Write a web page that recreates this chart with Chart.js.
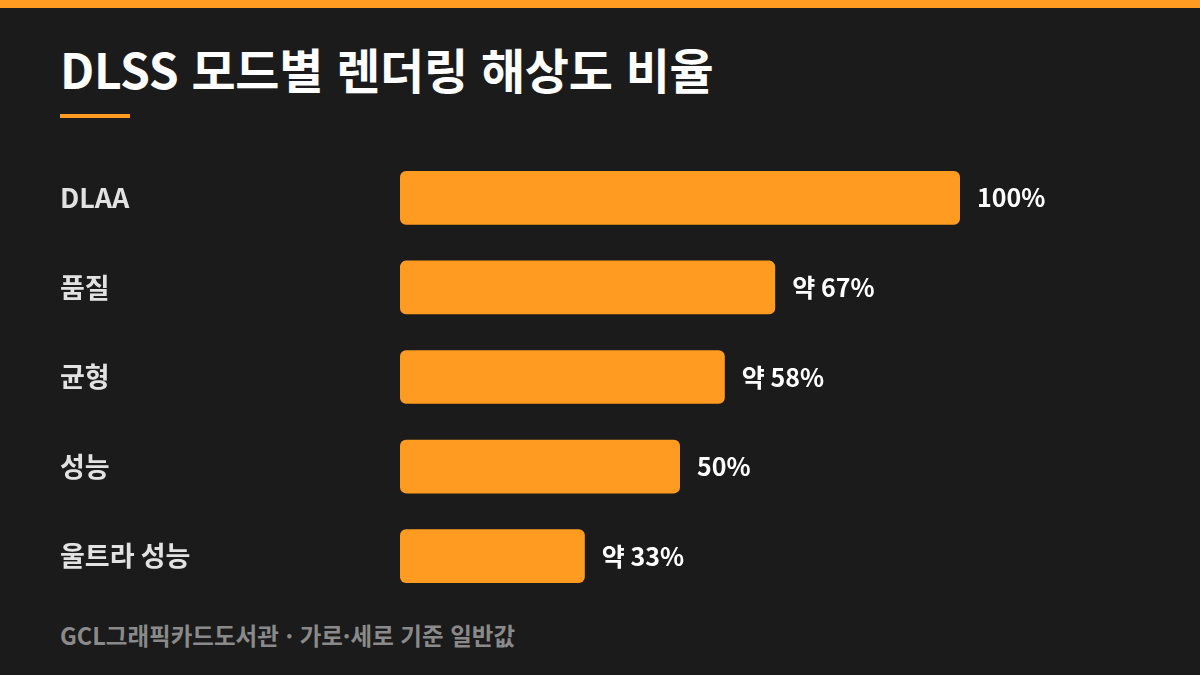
<!DOCTYPE html>
<html lang="ko">
<head>
<meta charset="utf-8">
<script src="https://cdn.jsdelivr.net/npm/chart.js@4"></script>
<style>
  html, body { margin: 0; padding: 0; }
  body {
    width: 1200px; height: 675px; background: #1b1b1b; position: relative; overflow: hidden;
    font-family: "Noto Sans CJK KR", "Noto Sans", sans-serif;
  }
  .topbar { position: absolute; left: 0; top: 0; width: 1200px; height: 8px; background: #ff9b21; }
  h1 {
    position: absolute; left: 60px; top: 36px; margin: 0;
    font-size: 48px; font-weight: 700; color: #ffffff; line-height: 64px; letter-spacing: -0.3px;
  }
  .rule { position: absolute; left: 60px; top: 114px; width: 70px; height: 4px; background: #ff9b21; }
  .chart-box { position: absolute; left: 60px; top: 137px; width: 1080px; height: 480px; }
  .footer {
    position: absolute; left: 60px; top: 619px; margin: 0;
    font-size: 23.5px; font-weight: 700; color: #8a8a8a; line-height: 32px;
  }
</style>
</head>
<body>
<div class="topbar"></div>
<h1>DLSS 모드별 렌더링 해상도 비율</h1>
<div class="rule"></div>
<div class="chart-box"><canvas id="dlssChart"></canvas></div>
<p class="footer">GCL그래픽카드도서관 · 가로·세로 기준 일반값</p>

<script>
// 모드 이름, 렌더링 비율(%), 막대 옆에 붙는 라벨
const modes = ['DLAA', '품질', '균형', '성능', '울트라 성능'];
const ratios = [100, 67, 58, 50, 33];
const ratioLabels = ['100%', '약 67%', '약 58%', '50%', '약 33%'];

const FONT = '"Noto Sans CJK KR", "Noto Sans", sans-serif';

// 막대 끝에 값 라벨 그리기
const valueLabelPlugin = {
    id: 'valueLabels',
    afterDatasetsDraw(chart) {
        const ctx = chart.ctx;
        const meta = chart.getDatasetMeta(0);
        ctx.save();
        ctx.font = 'bold 25px ' + FONT;
        ctx.fillStyle = '#ffffff';
        ctx.textAlign = 'left';
        ctx.textBaseline = 'middle';
        meta.data.forEach((bar, i) => {
            ctx.fillText(ratioLabels[i], bar.x + 17, bar.y);
        });
        ctx.restore();
    }
};

new Chart(document.getElementById('dlssChart'), {
    type: 'bar',
    data: {
        labels: modes,
        datasets: [{
            data: ratios,
            backgroundColor: '#ff9b21',
            borderRadius: 6,
            borderSkipped: false,
            barPercentage: 0.6,
            categoryPercentage: 1
        }]
    },
    options: {
        indexAxis: 'y',
        responsive: true,
        maintainAspectRatio: false,
        animation: false,
        layout: { padding: { left: 0, right: 180, top: 0, bottom: 0 } },
        plugins: {
            legend: { display: false },
            tooltip: { enabled: false }
        },
        scales: {
            x: {
                display: false,
                min: 0,
                max: 100
            },
            y: {
                grid: { display: false, drawTicks: false },
                border: { display: false },
                afterFit(scale) { scale.width = 340; },
                ticks: {
                    crossAlign: 'far',
                    padding: 0,
                    color: '#e2e2e2',
                    font: { family: FONT, size: 27, weight: 'bold' }
                }
            }
        }
    },
    plugins: [valueLabelPlugin]
});
</script>
</body>
</html>
